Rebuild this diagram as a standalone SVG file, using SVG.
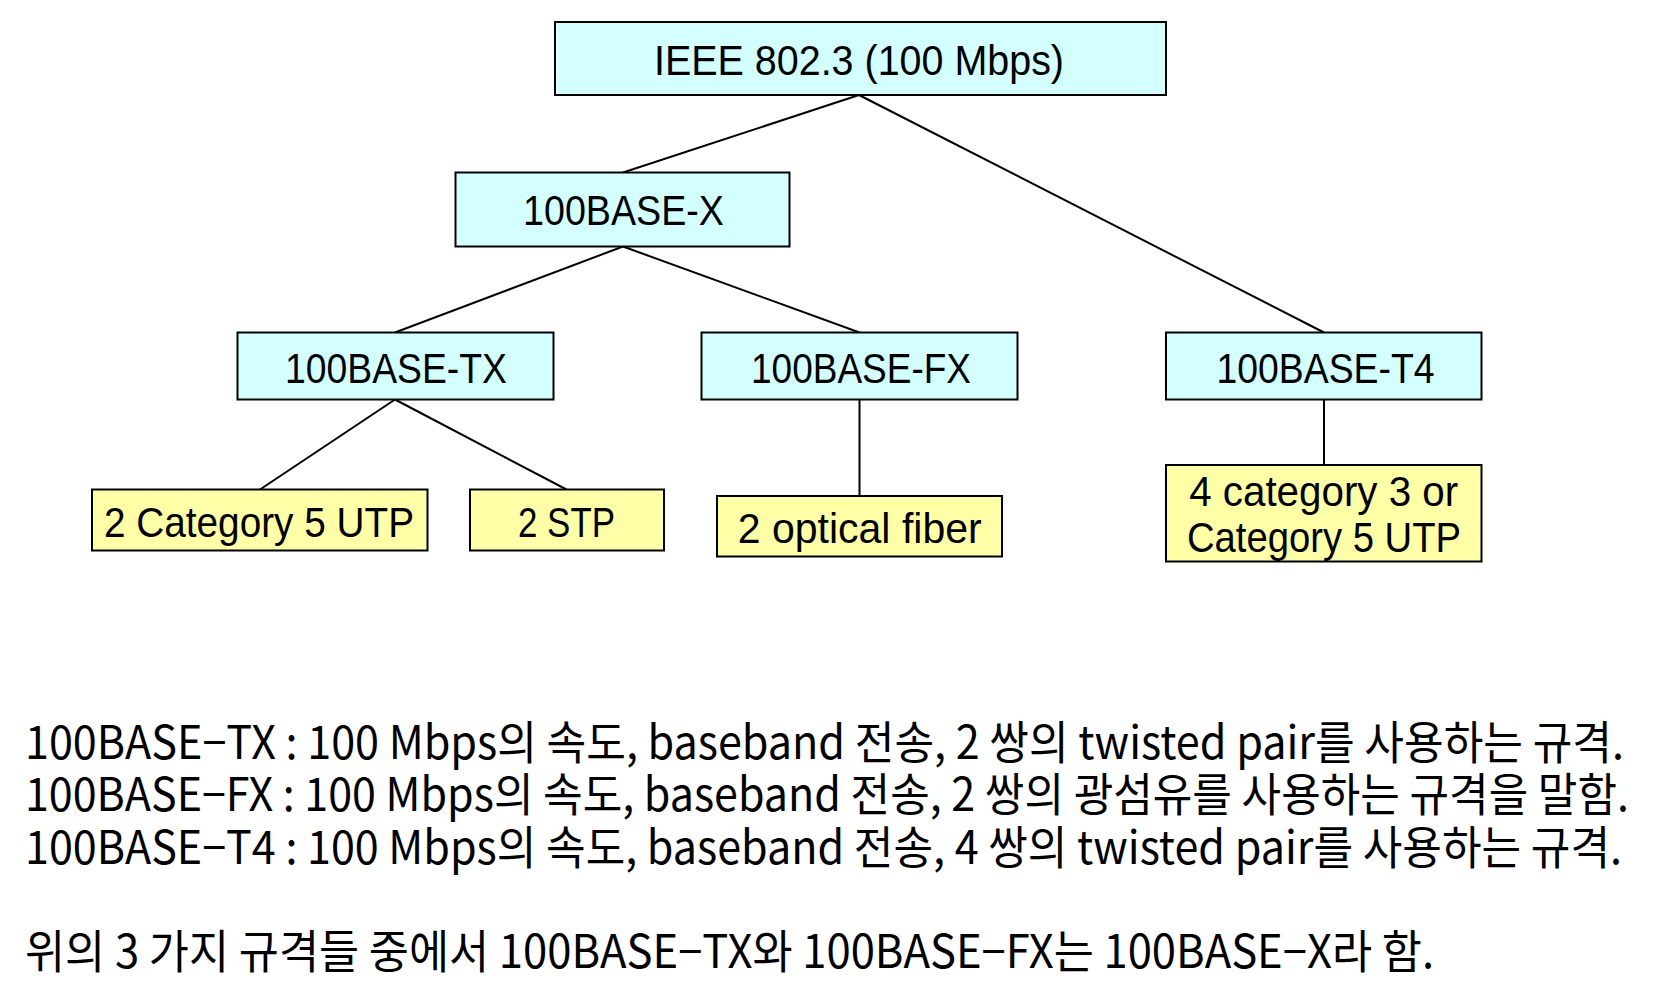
<svg xmlns="http://www.w3.org/2000/svg" width="1658" height="982" viewBox="0 0 1658 982">
<style>
.box{stroke:#000;stroke-width:2}
.c{fill:#D4FFFF}
.y{fill:#FFFFA8}
.t{font-family:"Liberation Sans",Arial,sans-serif;font-size:42px;fill:#000;text-anchor:middle}
.k{font-family:"Noto Sans CJK KR","Liberation Sans",sans-serif;font-size:46px;fill:#000}
.ln{stroke:#000;stroke-width:2;fill:none}
</style>
<rect width="1658" height="982" fill="#fff"/>
<g id="connectors">
<line class="ln" x1="859" y1="95" x2="623" y2="172.5"/>
<line class="ln" x1="859" y1="95" x2="1324" y2="332.5"/>
<line class="ln" x1="623" y1="246.5" x2="395" y2="332.5"/>
<line class="ln" x1="623" y1="246.5" x2="859.5" y2="332.5"/>
<line class="ln" x1="395" y1="399.5" x2="260" y2="489.5"/>
<line class="ln" x1="395" y1="399.5" x2="566.5" y2="489.5"/>
<line class="ln" x1="859.5" y1="399.5" x2="859.5" y2="496"/>
<line class="ln" x1="1324" y1="399.5" x2="1324" y2="465"/>
</g>
<g id="ieee">
<rect class="box c" x="555" y="22" width="611" height="73"/>
<text class="t" x="859" y="75" textLength="410" lengthAdjust="spacingAndGlyphs">IEEE 802.3 (100 Mbps)</text>
</g>
<g id="base-x">
<rect class="box c" x="455.5" y="172.5" width="334" height="74"/>
<text class="t" x="623.5" y="225" textLength="201" lengthAdjust="spacingAndGlyphs">100BASE-X</text>
</g>
<g id="base-tx">
<rect class="box c" x="237.5" y="332.5" width="316" height="67"/>
<text class="t" x="396" y="383" textLength="222" lengthAdjust="spacingAndGlyphs">100BASE-TX</text>
</g>
<g id="base-fx">
<rect class="box c" x="701.5" y="332.5" width="316" height="67"/>
<text class="t" x="861" y="383" textLength="220" lengthAdjust="spacingAndGlyphs">100BASE-FX</text>
</g>
<g id="base-t4">
<rect class="box c" x="1166" y="332.5" width="315.5" height="67"/>
<text class="t" x="1325.5" y="383" textLength="218" lengthAdjust="spacingAndGlyphs">100BASE-T4</text>
</g>
<g id="cat5">
<rect class="box y" x="92" y="489.5" width="335.5" height="61"/>
<text class="t" x="259" y="537" textLength="310" lengthAdjust="spacingAndGlyphs">2 Category 5 UTP</text>
</g>
<g id="stp">
<rect class="box y" x="470" y="489.5" width="194" height="61"/>
<text class="t" x="566.5" y="537" textLength="97" lengthAdjust="spacingAndGlyphs">2 STP</text>
</g>
<g id="fiber">
<rect class="box y" x="717" y="496" width="285" height="60.5"/>
<text class="t" x="859.7" y="543" textLength="244" lengthAdjust="spacingAndGlyphs">2 optical fiber</text>
</g>
<g id="t4-media">
<rect class="box y" x="1166" y="465" width="315.5" height="96.5"/>
<text class="t" x="1323.7" y="506" textLength="269" lengthAdjust="spacingAndGlyphs">4 category 3 or</text>
<text class="t" x="1324" y="552" textLength="274" lengthAdjust="spacingAndGlyphs">Category 5 UTP</text>
</g>
<g id="notes" transform="scale(0.84 1)">
<text class="k" x="29.76" y="759" textLength="1903.6" lengthAdjust="spacingAndGlyphs">100BASE−TX : 100 Mbps의 속도, baseband 전송, 2 쌍의 twisted pair를 사용하는 규격.</text>
<text class="k" x="29.76" y="811" textLength="1909.5" lengthAdjust="spacingAndGlyphs">100BASE−FX : 100 Mbps의 속도, baseband 전송, 2 쌍의 광섬유를 사용하는 규격을 말함.</text>
<text class="k" x="29.76" y="864" textLength="1901.2" lengthAdjust="spacingAndGlyphs">100BASE−T4 : 100 Mbps의 속도, baseband 전송, 4 쌍의 twisted pair를 사용하는 규격.</text>
<text class="k" x="29.76" y="968" textLength="1677.4" lengthAdjust="spacingAndGlyphs">위의 3 가지 규격들 중에서 100BASE−TX와 100BASE−FX는 100BASE−X라 함.</text>
</g>
</svg>
